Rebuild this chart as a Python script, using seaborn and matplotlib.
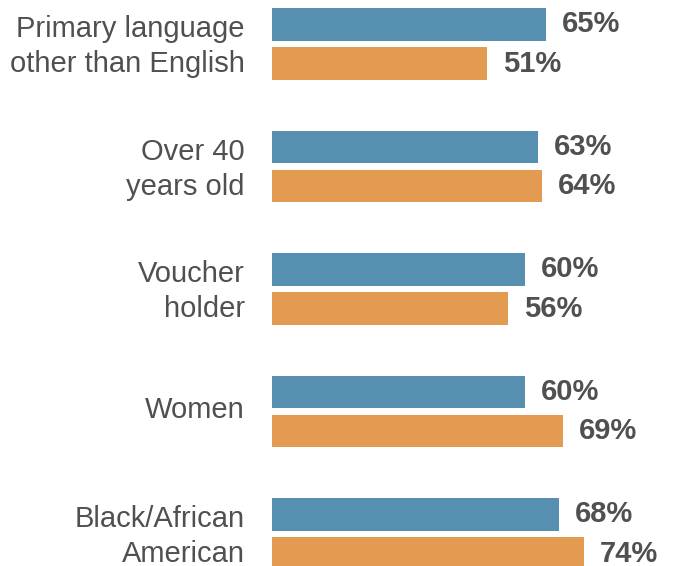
import matplotlib.pyplot as plt
import matplotlib.transforms as mtransforms
import pandas as pd
import seaborn as sns

# data
groups = ["Primary language\nother than English", "Over 40\nyears old", "Voucher\nholder",
          "Women", "Black/African\nAmerican"]
series_a = [65, 63, 60, 60, 68]
series_b = [51, 64, 56, 69, 74]
series_names = ["A", "B"]
colors = ["#568FB0", "#E39B52"]
text_color = "#505050"

df = pd.DataFrame({
    "group": groups * 2,
    "value": series_a + series_b,
    "series": [series_names[0]] * len(groups) + [series_names[1]] * len(groups),
})

sns.set_style("white")
plt.rcParams["font.family"] = ["Liberation Sans", "DejaVu Sans"]

fig = plt.figure(figsize=(6.75, 5.66), dpi=100)
ax = fig.add_axes([272 / 675, 0, 1 - 272 / 675, 1])

sns.barplot(data=df, x="value", y="group", hue="series", order=groups,
            hue_order=series_names, palette=colors, orient="h",
            width=0.64, gap=0.17, legend=False, ax=ax, saturation=1,
            linewidth=0)

ax.set_xlim(0, 403 / 4.215)
ax.set_ylim(566 / 122.5 - 44 / 122.5, -44 / 122.5)

for cont in ax.containers:
    ax.bar_label(cont, labels=[f"{v:.0f}%" for v in cont.datavalues],
                 padding=11.5, fontsize=21, fontweight="bold", color=text_color)

ax.set_xlabel("")
ax.set_ylabel("")
ax.set_xticks([])
ax.tick_params(axis="y", length=0, pad=19.5, labelsize=21, labelcolor=text_color)
shift = mtransforms.ScaledTranslation(0, 4 / 100, fig.dpi_scale_trans)
for lab in ax.get_yticklabels():
    lab.set_linespacing(1.33)
    lab.set_transform(lab.get_transform() + shift)
sns.despine(ax=ax, left=True, bottom=True)

plt.savefig("out.png", dpi=100)
plt.close()
